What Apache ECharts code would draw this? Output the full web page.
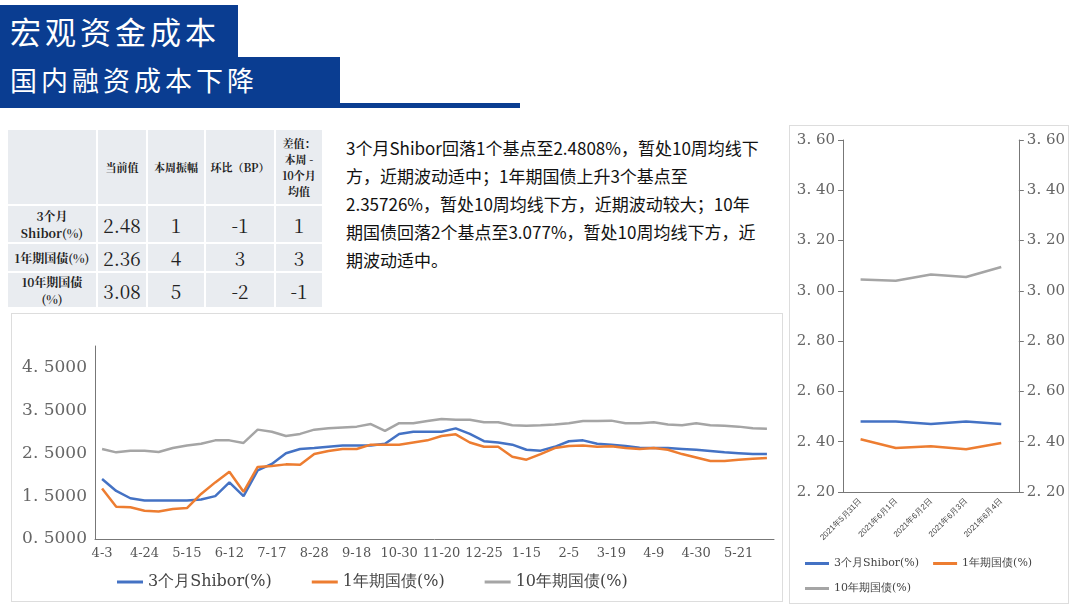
<!DOCTYPE html>
<html><head><meta charset="utf-8">
<script src="https://cdn.jsdelivr.net/npm/echarts@6/dist/echarts.min.js"></script>
<style>
body{margin:0;width:1080px;height:608px;background:#fff;position:relative;overflow:hidden;font-family:"Noto Sans CJK SC",sans-serif}
.abs{position:absolute}
#t1{left:0;top:5px;width:228px;height:52px;background:#0a3d91;color:#fff;font-size:31px;line-height:52px;padding-left:10px;letter-spacing:4px}
#t2{left:0;top:57px;width:330px;height:46px;background:#0a3d91;color:#fff;font-size:27px;line-height:46px;padding-left:10px;letter-spacing:4px}
#bar{left:0;top:103px;width:520px;height:5px;background:#0a3d91}
table{position:absolute;left:6px;top:128px;border-collapse:collapse;font-family:"Noto Serif CJK SC","DejaVu Serif",serif}
td{background:#e9ecf0;border:2px solid #fff;text-align:center;padding:0;color:#222}
.h{font-size:11px;font-weight:bold}
.v{font-size:19px}
#para{left:346px;top:134px;width:420px;font-size:17px;line-height:28px;color:#111}
#c1{left:11px;top:313px;width:770px;height:287px;border:1px solid #ddd}
#c2{left:789px;top:125px;width:278px;height:477px;border:1px solid #ddd}
</style></head><body>
<div class="abs" id="t1">宏观资金成本</div>
<div class="abs" id="t2">国内融资成本下降</div>
<div class="abs" id="bar"></div>
<table>
<tr style="height:76px"><td style="width:88px"></td><td class="h" style="width:48px">当前值</td><td class="h" style="width:56px">本周振幅</td><td class="h" style="width:68px">环比（BP）</td><td class="h" style="width:46px">差值：<br>本周 -<br>10个月<br>均值</td></tr>
<tr style="height:38px"><td class="h" style="font-size:12px">3个月<br>Shibor(%)</td><td class="v">2.48</td><td class="v">1</td><td class="v">-1</td><td class="v">1</td></tr>
<tr style="height:24px"><td class="h" style="font-size:12px">1年期国债(%)</td><td class="v">2.36</td><td class="v">4</td><td class="v">3</td><td class="v">3</td></tr>
<tr style="height:36px"><td class="h" style="font-size:12px">10年期国债<br>(%)</td><td class="v">3.08</td><td class="v">5</td><td class="v">-2</td><td class="v">-1</td></tr>
</table>
<div class="abs" id="para">3个月Shibor回落1个基点至2.4808%，暂处10周均线下方，近期波动适中；1年期国债上升3个基点至2.35726%，暂处10周均线下方，近期波动较大；10年期国债回落2个基点至3.077%，暂处10周均线下方，近期波动适中。</div>
<div class="abs" id="c1"></div>
<div class="abs" id="c2"></div>
<script>
var weeks = ['4-3','4-10','4-17','4-24','5-1','5-8','5-15','5-22','5-29','6-12','6-19','6-26','7-17','7-24','7-31','8-28','9-4','9-11','9-18','9-25','10-16','10-30','11-6','11-13','11-20','11-27','12-4','12-25','1-1','1-8','1-15','1-22','1-29','2-5','2-12','3-5','3-19','3-26','4-2','4-9','4-16','4-23','4-30','5-7','5-14','5-21','5-28','6-4'];
var shibor = [1.9,1.62,1.45,1.4,1.4,1.4,1.4,1.42,1.5,1.82,1.5,2.1,2.25,2.5,2.6,2.62,2.65,2.68,2.68,2.68,2.72,2.95,3.0,3.0,3.0,3.08,2.95,2.78,2.75,2.7,2.58,2.56,2.65,2.78,2.8,2.72,2.7,2.67,2.63,2.62,2.62,2.6,2.58,2.55,2.52,2.5,2.48,2.48];
var gz1 = [1.68,1.25,1.24,1.16,1.14,1.2,1.22,1.55,1.82,2.07,1.6,2.18,2.2,2.24,2.23,2.48,2.55,2.6,2.6,2.7,2.7,2.7,2.75,2.8,2.9,2.94,2.75,2.65,2.65,2.42,2.35,2.48,2.62,2.67,2.68,2.65,2.66,2.62,2.6,2.62,2.58,2.48,2.4,2.32,2.32,2.35,2.37,2.39];
var gz10 = [2.6,2.52,2.56,2.56,2.53,2.62,2.68,2.72,2.8,2.8,2.74,3.05,3.0,2.9,2.95,3.05,3.08,3.1,3.12,3.18,3.02,3.2,3.2,3.25,3.3,3.28,3.28,3.22,3.22,3.15,3.14,3.15,3.17,3.2,3.25,3.25,3.26,3.2,3.2,3.22,3.17,3.15,3.2,3.15,3.14,3.12,3.08,3.07];
var days = ['2021年5月31日','2021年6月1日','2021年6月2日','2021年6月3日','2021年6月4日'];
var dShibor = [2.48,2.48,2.47,2.48,2.47];
var dGz1 = [2.41,2.375,2.382,2.37,2.395];
var dGz10 = [3.045,3.04,3.065,3.055,3.095];
var names = ['3个月Shibor(%)','1年期国债(%)','10年期国债(%)'];
var colors = ['#4472c4','#ed7d31','#a5a5a5'];
var serif = '"DejaVu Serif",serif';
function sp(v, d){ return v.toFixed(d).replace('.', '. '); }

var myChart0 = echarts.init(document.getElementById('c1'));
var myChart1 = echarts.init(document.getElementById('c2'));

function mk(data){
	return names.map(function(n, i){
		return {name: n, type: 'line', data: data[i], symbol: 'none', lineStyle: {width: 2.5, color: colors[i]}, itemStyle: {color: colors[i]}};
	});
}

myChart0.setOption({
	animation: false,
	grid: {left: 83, right: 8, top: 32, bottom: 62},
	legend: {bottom: 6, left: 100, itemWidth: 26, itemHeight: 3, itemGap: 40, icon: 'rect',
		textStyle: {fontSize: 16, color: '#444', fontFamily: serif}},
	xAxis: {type: 'category', data: weeks,
		axisLine: {lineStyle: {color: '#777'}},
		axisTick: {interval: 0, length: 12, lineStyle: {color: '#333'}},
		axisLabel: {interval: 2, fontSize: 13, color: '#555', fontFamily: serif}},
	yAxis: {type: 'value', min: 0.5, max: 5, interval: 1,
		splitLine: {show: false},
		axisLine: {show: true, lineStyle: {color: '#777'}},
		axisLabel: {showMaxLabel: false, fontSize: 17, color: '#666', fontFamily: serif,
			formatter: function(v){ return sp(v, 4); }}},
	series: mk([shibor, gz1, gz10])
});

var yax = {type: 'value', min: 2.2, max: 3.6, interval: 0.2,
	splitLine: {show: false},
	axisLine: {show: true, lineStyle: {color: '#777'}},
	axisTick: {show: true, lineStyle: {color: '#777'}},
	axisLabel: {fontSize: 15, color: '#666', fontFamily: serif, formatter: function(v){ return sp(v, 2); }}};
myChart1.setOption({
	animation: false,
	grid: {left: 53, right: 48, top: 14, bottom: 111},
	legend: {bottom: 4, left: 10, right: 10, itemWidth: 24, itemHeight: 3, itemGap: 14, icon: 'rect',
		textStyle: {fontSize: 11, color: '#444', fontFamily: serif}},
	xAxis: {type: 'category', data: days,
		axisLine: {lineStyle: {color: '#777'}},
		axisTick: {lineStyle: {color: '#777'}},
		axisLabel: {rotate: 45, interval: 0, fontSize: 8, color: '#444'}},
	yAxis: [yax, echarts.util.merge({position: 'right'}, yax)],
	series: mk([dShibor, dGz1, dGz10])
});
</script>
</body></html>
